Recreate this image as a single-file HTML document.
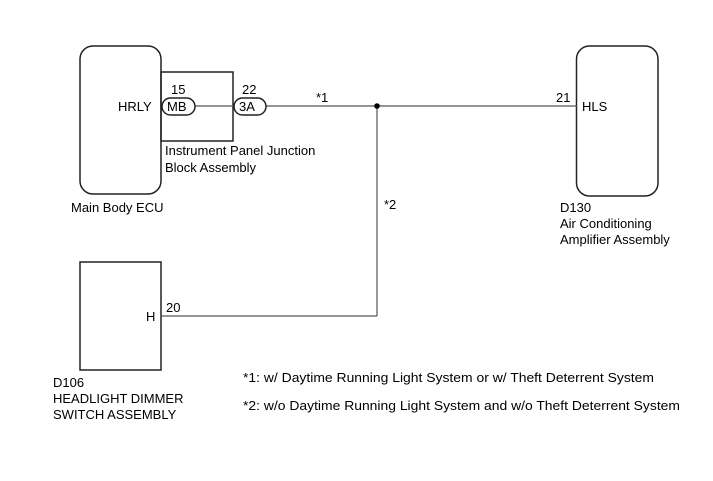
<!DOCTYPE html>
<html><head><style>html,body{margin:0;padding:0;background:#fff}svg{display:block}</style></head>
<body>
<svg width="713" height="481" xmlns="http://www.w3.org/2000/svg" font-family="Liberation Sans, sans-serif" font-size="13" fill="#000">
<g fill="none" stroke="#222" stroke-width="1.5">
<rect x="80" y="46" width="81" height="148" rx="13"/>
<rect x="576.5" y="46" width="81.5" height="150" rx="13"/>
<rect x="80" y="262" width="81" height="108"/>
<rect x="161" y="72" width="72" height="69"/>
</g>
<g fill="none" stroke="#555" stroke-width="1.2">
<line x1="195" y1="106" x2="233" y2="106"/>
<line x1="266" y1="106" x2="577" y2="106"/>
<line x1="377" y1="106" x2="377" y2="316"/>
<line x1="161" y1="316" x2="377" y2="316"/>
</g>
<g fill="#fff" stroke="#222" stroke-width="1.5">
<rect x="162" y="98" width="33" height="17" rx="8.5"/>
<rect x="234" y="98" width="32" height="17" rx="8.5"/>
</g>
<circle cx="377" cy="106" r="2.8" fill="#000"/>
<text x="118" y="111">HRLY</text>
<text x="167" y="111">MB</text>
<text x="239" y="111">3A</text>
<text x="171" y="94">15</text>
<text x="242" y="94">22</text>
<text x="316" y="102">*1</text>
<text x="384" y="209">*2</text>
<text x="556" y="102">21</text>
<text x="582" y="111">HLS</text>
<text x="146" y="321">H</text>
<text x="166" y="312">20</text>
<text x="165" y="155">Instrument Panel Junction</text>
<text x="165" y="172">Block Assembly</text>
<text x="71" y="212">Main Body ECU</text>
<text x="560" y="212">D130</text>
<text x="560" y="228">Air Conditioning</text>
<text x="560" y="244">Amplifier Assembly</text>
<text x="53" y="387">D106</text>
<text x="53" y="403">HEADLIGHT DIMMER</text>
<text x="53" y="419">SWITCH ASSEMBLY</text>
<text x="243" y="382" textLength="411" lengthAdjust="spacingAndGlyphs">*1: w/ Daytime Running Light System or w/ Theft Deterrent System</text>
<text x="243" y="410" textLength="437" lengthAdjust="spacingAndGlyphs">*2: w/o Daytime Running Light System and w/o Theft Deterrent System</text>
</svg>
</body></html>
